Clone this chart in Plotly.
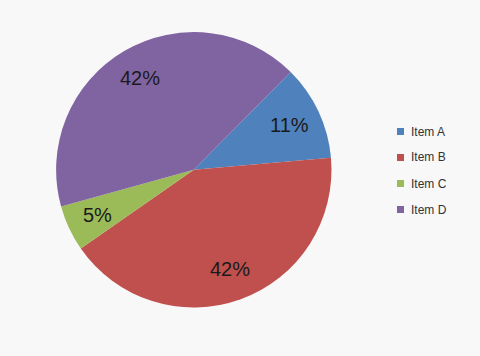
import math
import plotly.graph_objects as go

labels = ["Item A", "Item B", "Item C", "Item D"]
values = [11.2, 41.7, 5.4, 41.7]
colors = ["#4F81BD", "#C0504D", "#9BBB59", "#8064A2"]

W, H = 480, 356
start_angle = 44.7  # degrees clockwise from 12 o'clock
dom_x = [0.1169, 0.6906]
dom_y = [0.1362, 0.9098]

fig = go.Figure(go.Pie(
    labels=labels,
    values=values,
    sort=False,
    direction="clockwise",
    rotation=start_angle,
    marker=dict(colors=colors, line=dict(width=0)),
    textinfo="none",
    domain=dict(x=dom_x, y=dom_y),
    hoverinfo="label+percent",
    showlegend=False,
))

# percentage labels positioned from the data (mid-angle of each slice)
cx = (dom_x[0] + dom_x[1]) / 2 * W
cy = (1 - (dom_y[0] + dom_y[1]) / 2) * H
R = min((dom_x[1] - dom_x[0]) * W, (dom_y[1] - dom_y[0]) * H) / 2
total = sum(values)
acc = 0.0
annotations = []
for v in values:
    mid = math.radians(start_angle + (acc + v / 2) / total * 360)
    acc += v
    r = 0.77 * R
    px = cx + r * math.sin(mid)
    py = cy - r * math.cos(mid)
    annotations.append(dict(
        x=px / W, y=1 - py / H, xref="paper", yref="paper",
        text=f"{round(v / total * 100)}%", showarrow=False,
        font=dict(family="Liberation Sans, Arial, sans-serif", size=20, color="#1a1a1a"),
        xanchor="center", yanchor="middle",
    ))

# legend drawn as small squares + text
shapes = []
leg_x, leg_y0, leg_dy, sq = 397, 131.5, 26, 7
for i, (lab, col) in enumerate(zip(labels, colors)):
    yc = leg_y0 + i * leg_dy
    shapes.append(dict(
        type="rect", xref="paper", yref="paper",
        x0=leg_x / W, x1=(leg_x + sq) / W,
        y0=1 - (yc + sq / 2) / H, y1=1 - (yc - sq / 2) / H,
        fillcolor=col, line=dict(width=0),
    ))
    annotations.append(dict(
        x=(leg_x + sq + 5) / W, y=1 - yc / H, xref="paper", yref="paper",
        text=lab, showarrow=False, xanchor="left", yanchor="middle",
        font=dict(family="Liberation Sans, Arial, sans-serif", size=12, color="#333333"),
    ))

fig.update_layout(
    width=W, height=H,
    margin=dict(l=0, r=0, t=0, b=0),
    paper_bgcolor="#F8F8F8",
    plot_bgcolor="#F8F8F8",
    annotations=annotations,
    shapes=shapes,
)

fig.write_html("out.html")
